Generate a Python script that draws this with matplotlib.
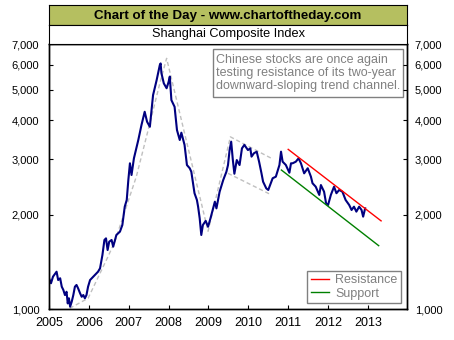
import matplotlib.pyplot as plt
from matplotlib.patches import Rectangle
from matplotlib.lines import Line2D
from matplotlib.ticker import FixedLocator, FuncFormatter, NullLocator

plt.rcParams['font.family'] = ['Liberation Sans', 'DejaVu Sans']

# Shanghai Composite, (decimal year, index level)
years = [
    2005.00, 2005.05, 2005.10, 2005.19, 2005.23, 2005.28, 2005.32, 2005.36, 2005.40,
    2005.44, 2005.47, 2005.50, 2005.53, 2005.57, 2005.61, 2005.65, 2005.69, 2005.73,
    2005.78, 2005.82, 2005.86, 2005.90, 2005.94, 2005.98, 2006.03, 2006.11, 2006.15,
    2006.23, 2006.28, 2006.34, 2006.39, 2006.43, 2006.47, 2006.51, 2006.57, 2006.61,
    2006.69, 2006.78, 2006.84, 2006.90, 2006.95, 2006.99, 2007.03, 2007.07, 2007.13,
    2007.24, 2007.32, 2007.40, 2007.46, 2007.53, 2007.61, 2007.70, 2007.78, 2007.80,
    2007.82, 2007.88, 2007.95, 2008.00, 2008.03, 2008.07, 2008.15, 2008.21, 2008.28,
    2008.32, 2008.40, 2008.46, 2008.53, 2008.57, 2008.65, 2008.71, 2008.74, 2008.78,
    2008.82, 2008.86, 2008.93, 2008.99, 2009.05, 2009.16, 2009.20, 2009.28, 2009.37,
    2009.45, 2009.49, 2009.53, 2009.57, 2009.61, 2009.65, 2009.71, 2009.78, 2009.84,
    2009.90, 2009.99, 2010.05, 2010.08, 2010.14, 2010.21, 2010.27, 2010.33, 2010.37,
    2010.45, 2010.50, 2010.53, 2010.61, 2010.69, 2010.78, 2010.82, 2010.86, 2010.94,
    2011.03, 2011.07, 2011.11, 2011.19, 2011.26, 2011.32, 2011.40, 2011.49, 2011.57,
    2011.61, 2011.69, 2011.78, 2011.82, 2011.90, 2011.95, 2012.00, 2012.07, 2012.15,
    2012.21, 2012.28, 2012.36, 2012.44, 2012.53, 2012.59, 2012.65, 2012.71, 2012.78,
    2012.84, 2012.88, 2012.93,
]
index = [
    1253, 1208, 1268, 1315, 1237, 1253, 1178, 1150, 1108,
    1135, 1042, 1082, 1017, 1055, 1108, 1178, 1193, 1164,
    1122, 1094, 1108, 1082, 1108, 1178, 1237, 1268, 1284,
    1315, 1348, 1486, 1660, 1680, 1542, 1639, 1660, 1580,
    1722, 1765, 1853, 2120, 2227, 2578, 2915, 2675, 3023,
    3459, 3862, 4256, 3955, 3811, 4808, 5370, 6000, 6070,
    5650, 5243, 5058, 5300, 5510, 4637, 4414, 3721, 3459,
    3650, 3337, 2878, 2811, 2740, 2340, 2227, 2120, 1945,
    1722, 1853, 1910, 1830, 1945, 2198, 2094, 2366, 2578,
    2740, 2878, 3213, 3417, 3000, 2700, 2985, 2878, 3253,
    3337, 3213, 3253, 3061, 3138, 3175, 2949, 2708, 2547,
    2425, 2397, 2455, 2612, 2642, 2878, 3175, 2950, 2880,
    2720, 2915, 2915, 2949, 3023, 2915, 2708, 2811, 2642,
    2518, 2455, 2311, 2485, 2366, 2173, 2146, 2311, 2455,
    2340, 2397, 2366, 2227, 2146, 2069, 2120, 2044, 2120,
    2069, 1970, 2094,
]

# hand-drawn guide lines (grey dashed)
swing_x = [2005.52, 2005.98, 2006.48, 2006.65, 2006.94, 2007.19, 2007.36, 2007.57,
           2007.78, 2007.95, 2008.99, 2009.55, 2010.58]
swing_y = [1005, 1082, 1469, 1639, 2120, 2642, 3213, 4100,
           5243, 6300, 1770, 3540, 3023]
lower_x = [2009.49, 2010.58]
lower_y = [2708, 2311]

# current channel
resist_x = [2011.00, 2013.33]
resist_y = [3229, 1910]
support_x = [2010.83, 2013.27]
support_y = [2774, 1592]

yticks = [1000, 2000, 3000, 4000, 5000, 6000, 7000]
xticks = list(range(2005, 2014))

W, H = 454, 340


def frame(x0, y0, x1, y1):
    return [x0 / W, 1 - y1 / H, (x1 - x0) / W, (y1 - y0) / H]


fig = plt.figure(figsize=(W / 100, H / 100), dpi=100)

ax = fig.add_axes(frame(49, 44, 407, 309))
ax.plot(swing_x, swing_y, color='#c0c0c0', lw=1, ls=(0, (3, 2)))
ax.plot(lower_x, lower_y, color='#c0c0c0', lw=1, ls=(0, (3, 2)))
ax.plot(years, index, color='#000080', lw=1.5)
ax.plot(resist_x, resist_y, color='#ff0000', lw=1)
ax.plot(support_x, support_y, color='#008000', lw=1)

ax.set_yscale('log')
ax.set_ylim(1000, 7000)
ax.set_xlim(2005, 2013.98)
fmt = FuncFormatter(lambda v, p: f'{v:,.0f}')
ax.yaxis.set_major_locator(FixedLocator(yticks))
ax.yaxis.set_minor_locator(NullLocator())
ax.yaxis.set_major_formatter(fmt)
ax.tick_params(axis='y', direction='in', length=3, labelsize=8, pad=7)
ax.set_xticks(xticks)
ax.tick_params(axis='x', direction='in', length=3, labelsize=9, pad=5.5)

ax2 = ax.twinx()
ax2.set_yscale('log')
ax2.set_ylim(1000, 7000)
ax2.yaxis.set_major_locator(FixedLocator(yticks))
ax2.yaxis.set_minor_locator(NullLocator())
ax2.yaxis.set_major_formatter(fmt)
ax2.tick_params(axis='y', direction='in', length=3, labelsize=8, pad=5.5)

for a in (ax, ax2):
    for s in a.spines.values():
        s.set_linewidth(1)

# note box
ax.add_patch(Rectangle(((213 - 49) / 358, (309 - 97) / 265), 190 / 358, 48 / 265,
                       transform=ax.transAxes, fc='white', ec='#808080', lw=1, zorder=5))
ax.text((216 - 49) / 358, (309 - 73) / 265,
        'Chinese stocks are once again\ntesting resistance of its two-year\n'
        'downward-sloping trend channel.',
        transform=ax.transAxes, ha='left', va='center', fontsize=9,
        color='#808080', linespacing=1.08, zorder=6)

handles = [Line2D([], [], color='#ff0000', lw=1), Line2D([], [], color='#008000', lw=1)]
leg = ax.legend(handles, ['Resistance', 'Support'], loc='lower right', fontsize=9,
                labelcolor='#808080', fancybox=False, edgecolor='#808080',
                framealpha=1, handlelength=1.4, handletextpad=0.55,
                borderaxespad=0.45, labelspacing=0.1, borderpad=0.3)
leg.get_frame().set_linewidth(1)

# title bands
head = fig.add_axes(frame(49, 5, 407, 25))
head.set_facecolor('#b5bf60')
head.set_xticks([])
head.set_yticks([])
head.text(0.5, 0.45, 'Chart of the Day - www.chartoftheday.com', ha='center',
          va='center', fontsize=9.6, fontweight='bold')

sub = fig.add_axes(frame(49, 25, 407, 44))
sub.set_xticks([])
sub.set_yticks([])
sub.text(0.5, 0.5, 'Shanghai Composite Index', ha='center', va='center', fontsize=9.2)

fig.savefig('out.png', dpi=100)
